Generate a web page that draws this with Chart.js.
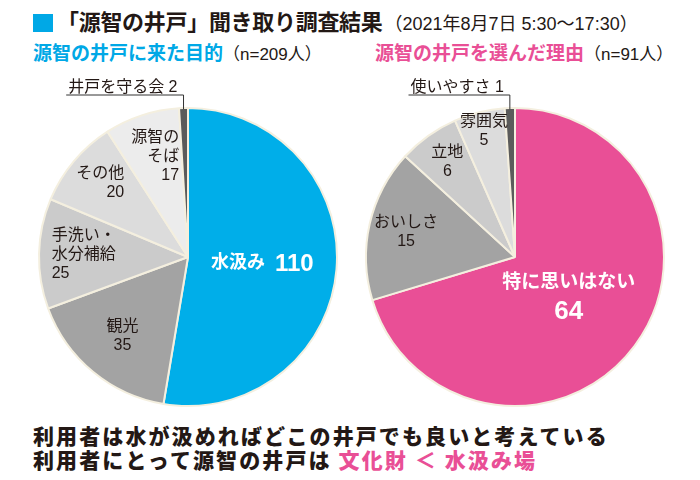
<!DOCTYPE html>
<html lang="ja">
<head>
<meta charset="utf-8">
<script src="https://cdn.jsdelivr.net/npm/chart.js@4"></script>
<style>
  html, body { margin: 0; padding: 0; background: #fff; }
  body { width: 700px; height: 480px; position: relative; overflow: hidden;
         font-family: "Noto Sans CJK JP", "Noto Sans", sans-serif; color: #231815; }
  .abs { position: absolute; white-space: nowrap; }
  .lat { font-family: "Liberation Sans", "Noto Sans CJK JP", sans-serif; }
  .title { left: 33px; top: 4px; font-size: 22px; font-weight: 700; letter-spacing: -0.3px; }
  .title .sq { display: inline-block; width: 20px; height: 18px; background: #00a8e6; vertical-align: -2px; margin-right: 4px; }
  .title .date { font-size: 18px; font-weight: 400; letter-spacing: 0; margin-left: 2px; }
  .sub { top: 38px; font-size: 19px; font-weight: 700; }
  .sub .n { font-size: 17px; font-weight: 400; color: #231815; margin-left: 0px; }
  .bottom { left: 33px; font-size: 21px; font-weight: 900; letter-spacing: 2.1px; }
  canvas { position: absolute; }
</style>
</head>
<body>
<div class="abs title"><span class="sq"></span>「源智の井戸」聞き取り調査結果<span class="date lat">（2021年8月7日 5:30〜17:30）</span></div>
<div class="abs sub" style="left:33px;color:#00a8e6">源智の井戸に来た目的<span class="n lat">（n=209人）</span></div>
<div class="abs sub" style="left:375px;color:#e94f96">源智の井戸を選んだ理由<span class="n lat">（n=91人）</span></div>
<div class="abs bottom" style="top:420px">利用者は水が汲めればどこの井戸でも良いと考えている</div>
<div class="abs bottom" style="top:444px">利用者にとって源智の井戸は <span style="color:#e94f96">文化財 ＜ 水汲み場</span></div>

<canvas id="purpose" width="350" height="345" style="left:0;top:70px"></canvas>
<canvas id="reason" width="350" height="345" style="left:350px;top:70px"></canvas>

<script>
// 源智の井戸に来た目的 (n=209)
const purposeLabels = ['水汲み', '観光', '手洗い・\n水分補給', 'その他', '源智の\nそば', '井戸を守る会'];
const purposeValues = [110, 35, 25, 20, 17, 2];
const purposeColors = ['#00aee9', '#a3a3a3', '#cbcbcb', '#dcdcdc', '#ececec', '#5b5b5b'];

// 源智の井戸を選んだ理由 (n=91)
const reasonLabels = ['特に思いはない', 'おいしさ', '立地', '雰囲気', '使いやすさ'];
const reasonValues = [64, 15, 6, 5, 1];
const reasonColors = ['#e94f96', '#a3a3a3', '#cbcbcb', '#dcdcdc', '#5b5b5b'];

const FONT = '"Liberation Sans", "Noto Sans CJK JP", sans-serif';

const sliceLabels = {
  id: 'sliceLabels',
  afterDatasetsDraw(chart, args, opts) {
    const ctx = chart.ctx;
    const meta = chart.getDatasetMeta(0);
    const names = chart.data.labels;
    const values = chart.data.datasets[0].data;
    ctx.save();
    meta.data.forEach((arc, i) => {
      const p = arc.getProps(['x', 'y', 'startAngle', 'endAngle', 'outerRadius'], true);
      const mid = (p.startAngle + p.endAngle) / 2;
      const r = p.outerRadius * (opts.radial[i] || 0);
      const cx = p.x + Math.cos(mid) * r;
      const cy = p.y + Math.sin(mid) * r;
      ctx.textBaseline = 'middle';

      if (i === opts.outside) {
        // leader line label above the pie
        const px = p.x + Math.cos(mid) * p.outerRadius;
        const py = p.y + Math.sin(mid) * p.outerRadius;
        const lineY = p.y - p.outerRadius - 13;
        const text = names[i] + ' ' + values[i];
        ctx.font = '16px ' + FONT;
        const w = ctx.measureText(text).width;
        ctx.strokeStyle = '#333';
        ctx.lineWidth = 1;
        ctx.beginPath();
        ctx.moveTo(px, py + 1);
        ctx.lineTo(px, lineY);
        ctx.lineTo(px - w - 8, lineY);
        ctx.stroke();
        ctx.fillStyle = '#231815';
        ctx.textAlign = 'right';
        ctx.textBaseline = 'alphabetic';
        ctx.fillText(text, px - 6, lineY - 3);
        return;
      }

      if (i === 0) {
        ctx.fillStyle = '#fff';
        if (opts.inline) {
          ctx.font = 'bold 18px ' + FONT;
          const a = names[i] + '  ';
          const wa = ctx.measureText(a).width;
          ctx.font = 'bold 24px ' + FONT;
          const wb = ctx.measureText(String(values[i])).width;
          let x = cx - (wa + wb) / 2;
          ctx.textAlign = 'left';
          ctx.font = 'bold 18px ' + FONT;
          ctx.fillText(a, x, cy);
          ctx.font = 'bold 24px ' + FONT;
          ctx.fillText(String(values[i]), x + wa, cy + 1);
        } else {
          ctx.textAlign = 'center';
          ctx.font = 'bold 19px ' + FONT;
          ctx.fillText(names[i], cx, cy - 14);
          ctx.font = 'bold 26px ' + FONT;
          ctx.fillText(String(values[i]), cx, cy + 15);
        }
        return;
      }

      const lines = names[i].split('\n').concat(String(values[i]));
      ctx.font = '16px ' + FONT;
      ctx.fillStyle = '#231815';
      const lh = 19;
      const w = Math.max(...lines.map(l => ctx.measureText(l).width));
      const align = (opts.align && opts.align[i]) || 'center';
      let x = cx;
      if (align === 'left') x = cx - w / 2;
      if (align === 'right') x = cx + w / 2;
      ctx.textAlign = align;
      lines.forEach((l, k) => {
        ctx.fillText(l, x, cy + (k - (lines.length - 1) / 2) * lh);
      });
    });
    ctx.restore();
  }
};

function makePie(id, labels, values, colors, padding, labelOpts) {
  return new Chart(document.getElementById(id), {
    type: 'pie',
    data: {
      labels: labels,
      datasets: [{
        data: values,
        backgroundColor: colors,
        borderColor: '#f4efdf',
        borderWidth: 2
      }]
    },
    options: {
      responsive: false,
      animation: false,
      layout: { padding: padding },
      plugins: {
        legend: { display: false },
        tooltip: { enabled: false },
        sliceLabels: labelOpts
      }
    },
    plugins: [sliceLabels]
  });
}

makePie('purpose', purposeLabels, purposeValues, purposeColors,
  { left: 38, right: 12, top: 37, bottom: 8 },
  { radial: [0.5, 0.69, 0.7, 0.77, 0.71, 1], outside: 5, inline: true,
    align: [null, 'center', 'left', 'right', 'right'] });

makePie('reason', reasonLabels, reasonValues, reasonColors,
  { left: 15, right: 35, top: 37, bottom: 8 },
  { radial: [0.45, 0.75, 0.78, 0.87, 1], outside: 4, inline: false });
</script>
</body>
</html>
